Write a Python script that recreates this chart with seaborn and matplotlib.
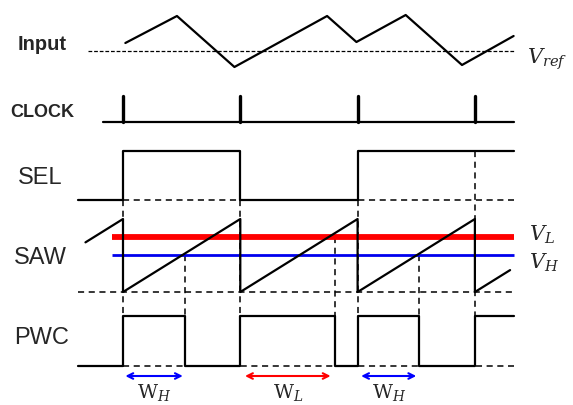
import numpy as np
import matplotlib.pyplot as plt
import seaborn as sns

sns.set_style("white")
plt.rcParams['font.family'] = ['Liberation Sans', 'DejaVu Sans']
plt.rcParams['mathtext.fontset'] = 'dejavuserif'

# ---- datos (tiempo en periodos de reloj) ----
clock_t = [0, 1, 2, 3]

input_t = [0.02, 0.46, 0.95, 1.74, 1.99, 2.41, 2.89, 3.33]
input_v = [8, 35, -16, 35, 9, 36, -14, 15]          # respecto a Vref

sel_t = [-0.38, 0, 1, 2, 3.33]                       # bordes de los tramos
sel_lv = [0, 1, 0, 1]

saw_t = [-0.32, 0, 0, 1, 1, 2, 2, 3, 3, 3.30]
saw_v = [0.68, 1, 0, 1, 0, 1, 0, 1, 0, 0.30]

v_l = 0.75
v_h = 0.51

pwc_t = [-0.38, 0, 0.53, 1, 1.81, 2, 2.52, 3, 3.33]
pwc_lv = [0, 1, 0, 1, 0, 1, 0, 1]

widths = [(0.02, 0.51), (1.04, 1.77), (2.03, 2.50)]
width_names = ['H', 'L', 'H']

# ---- layout (pixeles desde arriba) ----
T_PX, X0 = 117.3, 123
VREF_Y = 52
CLK_Y, CLK_H = 123, 26
SEL_LO, SEL_HI = 201, 152
SAW_LO, SAW_HI = 293, 220
PWC_LO, PWC_HI = 367, 317
ARROW_Y = 377
T_END = 3.33

LW = 1.6
DASH = dict(color='black', lw=1.1, linestyle=(0, (4, 3)))


def steps(edges, levels, lo, hi):
    xs, ys = [], []
    for i, lv in enumerate(levels):
        y = hi if lv else lo
        xs += [edges[i], edges[i + 1]]
        ys += [y, y]
    return xs, ys


def line(xs, ys, **kw):
    sns.lineplot(x=xs, y=ys, sort=False, estimator=None, legend=False, ax=ax, **kw)


fig = plt.figure(figsize=(5.73, 4.06), dpi=100)
ax = fig.add_axes([0, 0, 1, 1])

# Input
ax.plot([-0.30, T_END], [VREF_Y, VREF_Y], color='black', lw=0.9, linestyle=(0, (3, 1.5)))
line(input_t, [VREF_Y - v for v in input_v], color='black', linewidth=LW)

# CLOCK
line([-0.17, T_END], [CLK_Y, CLK_Y], color='black', linewidth=LW)
for t in clock_t:
    ax.plot([t, t], [CLK_Y, CLK_Y - CLK_H], color='black', lw=2.4)

# guias punteadas
ax.plot([0, T_END], [SEL_LO, SEL_LO], **DASH)
ax.plot([-0.38, T_END], [SAW_LO, SAW_LO], **DASH)
ax.plot([0, T_END], [PWC_LO, PWC_LO], **DASH)
for t in clock_t:
    before = sel_lv[max(0, np.searchsorted(sel_t, t) - 1)]
    after = sel_lv[min(len(sel_lv) - 1, np.searchsorted(sel_t, t))]
    top = SEL_HI if (before and after) else SEL_LO
    ax.plot([t, t], [top, PWC_LO], **DASH)
for i in (2, 4, 6):
    t = pwc_t[i]
    k = int(np.floor(t))
    thr = v_h if sel_lv[k + 1] else v_l
    ax.plot([t, t], [SAW_LO - thr * (SAW_LO - SAW_HI), PWC_LO], **DASH)

# SEL
xs, ys = steps(sel_t, sel_lv, SEL_LO, SEL_HI)
line(xs, ys, color='black', linewidth=LW)

# SAW
ax.plot([-0.09, T_END], [SAW_LO - v_l * (SAW_LO - SAW_HI)] * 2, color='#ff0000', lw=4.2, solid_capstyle='butt')
ax.plot([-0.09, T_END], [SAW_LO - v_h * (SAW_LO - SAW_HI)] * 2, color='#0000ee', lw=2.0, solid_capstyle='butt')
line(saw_t, [SAW_LO - v * (SAW_LO - SAW_HI) for v in saw_v], color='black', linewidth=LW)

# PWC
xs, ys = steps(pwc_t, pwc_lv, PWC_LO, PWC_HI)
line(xs, ys, color='black', linewidth=LW)

# flechas de ancho
for (a, b), n in zip(widths, width_names):
    c = 'blue' if n == 'H' else 'red'
    ax.annotate('', xy=(b, ARROW_Y), xytext=(a, ARROW_Y),
                arrowprops=dict(arrowstyle='<->', color=c, lw=1.5, shrinkA=0, shrinkB=0))
    ax.text((a + b) / 2, ARROW_Y + 16, r'$\mathrm{W}_{%s}$' % n, ha='center', va='center', fontsize=14)

ax.set_xlim(-X0 / T_PX, (573 - X0) / T_PX)
ax.set_ylim(406, 0)
ax.axis('off')

# etiquetas
def ftext(x, y, s, **kw):
    fig.text(x / 573, 1 - y / 406, s, va='center', **kw)

ftext(42, 45, 'Input', ha='center', fontsize=14.5, fontweight='bold')
ftext(42, 113, 'CLOCK', ha='center', fontsize=13, fontweight='bold')
ftext(40, 178, 'SEL', ha='center', fontsize=17)
ftext(40, 258, 'SAW', ha='center', fontsize=17)
ftext(42, 338, 'PWC', ha='center', fontsize=17)
ftext(527, 59, r'$V_{ref}$', ha='left', fontsize=15)
ftext(529, 235, r'$V_L$', ha='left', fontsize=15)
ftext(529, 263, r'$V_H$', ha='left', fontsize=15)

fig.savefig('out.png', dpi=100)
